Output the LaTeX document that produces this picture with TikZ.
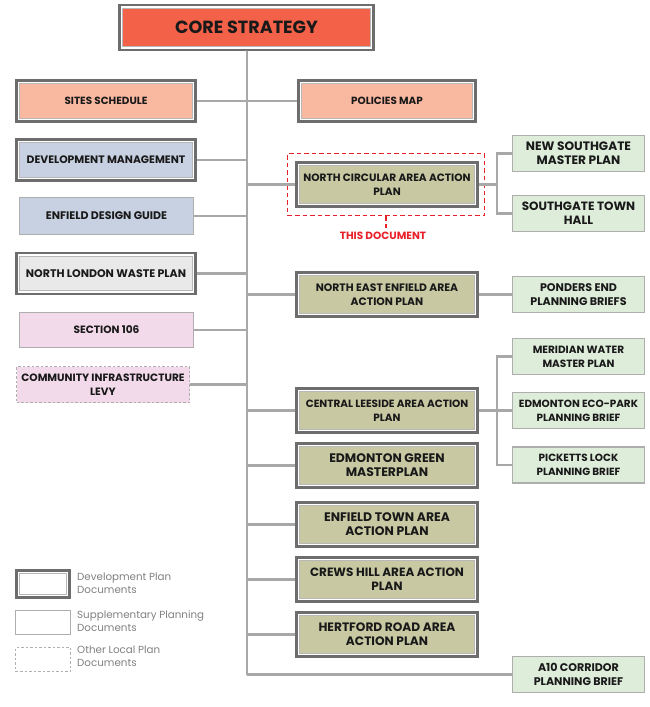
\documentclass[tikz,border=0pt]{standalone}
\usepackage{fontspec}
\setmainfont{Poppins}
\begin{document}
\begin{tikzpicture}[x=1pt,y=-1pt]
\definecolor{corefill}{HTML}{F26148}
\definecolor{salmon}{HTML}{F9B8A0}
\definecolor{bluegray}{HTML}{C8D1E2}
\definecolor{wastefill}{HTML}{E8E9E8}
\definecolor{pinkfill}{HTML}{F2DAEA}
\definecolor{olive}{HTML}{C8C9A3}
\definecolor{lgreen}{HTML}{DDEDDA}
\definecolor{trunkgray}{HTML}{A8A8A8}
\definecolor{darkborder}{HTML}{6D6D6D}
\definecolor{innerline}{HTML}{B8B8B8}
\definecolor{spdborder}{HTML}{AEAEAE}
\definecolor{redline}{HTML}{E8202A}
\definecolor{legtext}{HTML}{808080}
\tikzset{
  lbl/.style={font={\fontsize{10.6}{14}\selectfont\bfseries}, align=center, inner sep=0pt, text=black!90},
  fs/.style={font={\fontsize{#1}{14}\selectfont\bfseries}},
  dpd/.style={lbl, draw=darkborder, line width=2.6pt, fill=white,
    path picture={\filldraw[fill=#1, draw=innerline, line width=0.9pt]
      ([shift={(3.4pt,-3.4pt)}]path picture bounding box.north west) rectangle
      ([shift={(-3.4pt,3.4pt)}]path picture bounding box.south east);}},
  spd/.style={lbl, draw=spdborder, line width=1.5pt, fill=#1},
  olp/.style={lbl, draw=spdborder, line width=1.2pt, dash pattern=on 2.5pt off 2pt, fill=#1},
  conn/.style={draw=trunkgray, line width=2.4pt},
  reddash/.style={draw=redline, line width=1.8pt, dash pattern=on 4.5pt off 3pt},
  legtxt/.style={font={\fontsize{10.3}{13}\selectfont}, text=legtext, align=left, anchor=north west, inner sep=0pt}
}
\useasboundingbox (0,0) rectangle (650,707);

% core
\node[dpd=corefill, minimum width=254, minimum height=45, fs=17.6] (core) at (246.5,27.5) {CORE STRATEGY};
\coordinate (ttop) at (247,51);
\coordinate (tbot) at (247,674.5);

% left column
\node[dpd=salmon, minimum width=179, minimum height=41, fs=10.4] (sites) at (106,101) {SITES SCHEDULE};
\node[dpd=bluegray, minimum width=179, minimum height=41, fs=10.8] (devman) at (106,160) {DEVELOPMENT MANAGEMENT};
\node[spd=bluegray, minimum width=174, minimum height=37, fs=11] (design) at (106.5,216) {ENFIELD DESIGN GUIDE};
\node[dpd=wastefill, minimum width=179, minimum height=41, fs=11] (waste) at (106,273.5) {NORTH LONDON WASTE PLAN};
\node[spd=pinkfill, minimum width=174, minimum height=35, fs=10.6] (s106) at (106.5,330) {SECTION 106};
\node[olp=pinkfill, minimum width=173, minimum height=36, fs=10.6] (cil) at (103,384.5) {COMMUNITY INFRASTRUCTURE\\LEVY};

% centre column
\node[dpd=salmon, minimum width=177, minimum height=41, fs=10.4] (polmap) at (387,101) {POLICIES MAP};
\node[dpd=olive, minimum width=181, minimum height=44, fs=10.6] (ncaap) at (387,184.5) {NORTH CIRCULAR AREA ACTION\\PLAN};
\node[dpd=olive, minimum width=181, minimum height=44, fs=10.8] (neeaap) at (387,294.5) {NORTH EAST ENFIELD AREA\\ACTION PLAN};
\node[dpd=olive, minimum width=181, minimum height=44, fs=10.5] (claap) at (387,410.5) {CENTRAL LEESIDE AREA ACTION\\PLAN};
\node[dpd=olive, minimum width=181, minimum height=44, fs=12.4] (egm) at (387,465.5) {EDMONTON GREEN\\MASTERPLAN};
\node[dpd=olive, minimum width=181, minimum height=44, fs=12.4] (etaap) at (387,524.5) {ENFIELD TOWN AREA\\ACTION PLAN};
\node[dpd=olive, minimum width=181, minimum height=44, fs=12] (chaap) at (387,579.5) {CREWS HILL AREA ACTION\\PLAN};
\node[dpd=olive, minimum width=181, minimum height=44, fs=12.2] (hraap) at (387,634.5) {HERTFORD ROAD AREA\\ACTION PLAN};

% right column
\node[spd=lgreen, minimum width=132, minimum height=36, fs=12.2] (nsmp) at (578.5,153.5) {NEW SOUTHGATE\\MASTER PLAN};
\node[spd=lgreen, minimum width=132, minimum height=36, fs=12] (sth) at (578.5,213.5) {SOUTHGATE TOWN\\HALL};
\node[spd=lgreen, minimum width=132, minimum height=36, fs=11.1] (pepb) at (578.5,294.5) {PONDERS END\\PLANNING BRIEFS};
\node[spd=lgreen, minimum width=132, minimum height=36, fs=10.5] (mwmp) at (578.5,356.5) {MERIDIAN WATER\\MASTER PLAN};
\node[spd=lgreen, minimum width=132, minimum height=36, fs=10.4] (eepb) at (578.5,410.5) {EDMONTON ECO-PARK\\PLANNING BRIEF};
\node[spd=lgreen, minimum width=132, minimum height=36, fs=10.4] (plpb) at (578.5,465) {PICKETTS LOCK\\PLANNING BRIEF};
\node[spd=lgreen, minimum width=132, minimum height=36, fs=11.1] (a10) at (578.5,674.5) {A10 CORRIDOR\\PLANNING BRIEF};

% this document highlight
\node[reddash, minimum width=197, minimum height=62, inner sep=0pt] (hl) at (386,184.5) {};
\coordinate (hltick) at (386,228);
\node[font={\fontsize{10.5}{12}\selectfont\bfseries}, text=redline, inner sep=0pt] (thisdoc) at (383,235.5) {THIS DOCUMENT};

% connectors
\draw[conn] (ttop) -- (tbot);
\draw[conn] (core.south) -- (ttop);
\foreach \n in {sites,devman,design,waste,s106,cil}
  \draw[conn] (\n.east) -- (\n.east -| ttop);
\foreach \n in {polmap,ncaap,neeaap,claap,egm,etaap,chaap,hraap}
  \draw[conn] (\n.west -| ttop) -- (\n.west);
\draw[conn] (tbot) -- (a10.west);
\coordinate (b1) at (497,184.5);
\draw[conn] (ncaap.east) -- (b1);
\draw[conn] (nsmp.west) -| (b1) |- (sth.west);
\draw[conn] (neeaap.east) -- (pepb.west);
\coordinate (b2) at (497,410.5);
\draw[conn] (claap.east) -- (eepb.west);
\draw[conn] (mwmp.west) -| (b2) |- (plpb.west);
\draw[reddash] (hl.south) -- (hltick);

% legend
\node[dpd=white, minimum width=53, minimum height=27] (legdpd) at (43,584) {};
\node[spd=white, minimum width=55, minimum height=24] (legspd) at (43,622.5) {};
\node[olp=white, minimum width=55, minimum height=24] (legolp) at (43,659.5) {};
\node[legtxt] (legdpdt) at (77,573) {Development Plan\\Documents};
\node[legtxt] (legspdt) at (77,610) {Supplementary Planning\\Documents};
\node[legtxt] (legolpt) at (77,646) {Other Local Plan\\Documents};
\end{tikzpicture}
\end{document}
